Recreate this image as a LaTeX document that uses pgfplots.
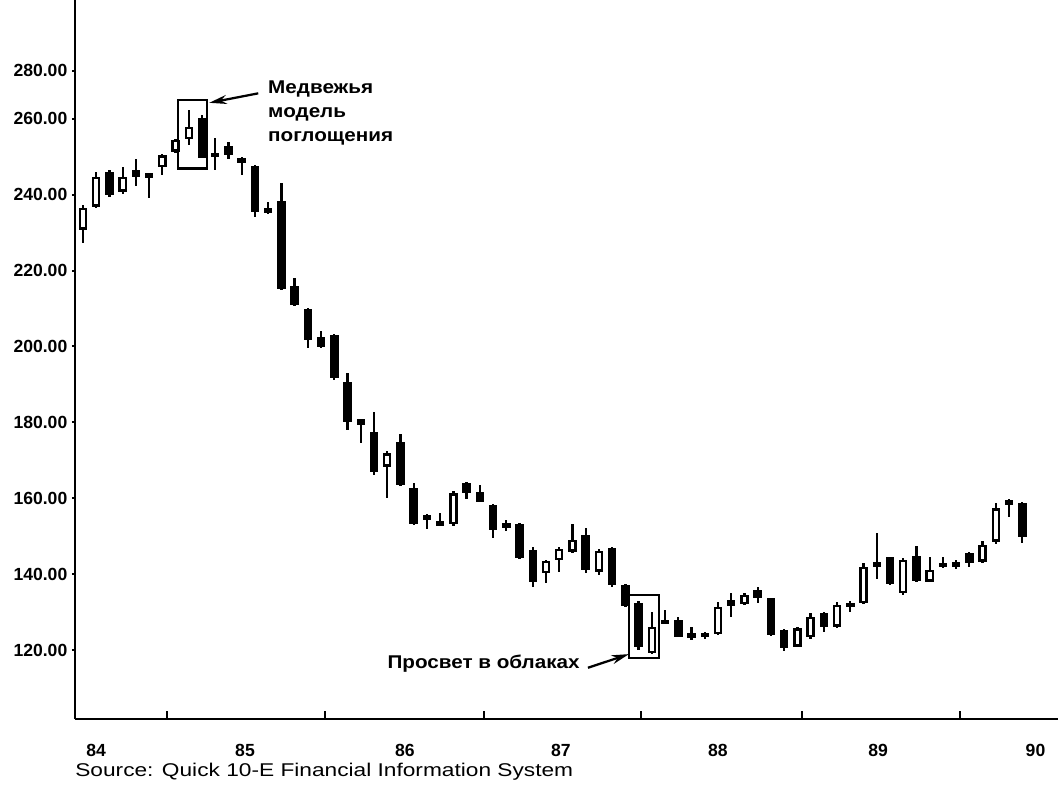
\documentclass[border=0pt]{standalone}
\usepackage{fontspec}
\setmainfont{Liberation Sans}
\newfontfamily\annfont[FakeStretch=1.12]{Liberation Sans}
\newfontfamily\srcfont[FakeStretch=1.23]{Liberation Sans}
\usepackage{pgfplots}
\pgfplotsset{compat=1.18}
\usepackage{pgfplotstable}
\usetikzlibrary{arrows.meta}

% monthly candles, i = month index (0 = mid 1984)
\pgfplotstableread{
i  O     H     L     C
0  230.7 237.3 227.2 236.5
1  236.8 246.0 236.5 244.7
2  246.0 246.5 239.4 239.9
3  240.8 247.2 240.3 244.7
4  246.5 249.4 242.3 244.6
5  244.6 245.6 239.0 245.4
6  247.2 250.8 245.2 250.4
7  251.3 254.6 251.0 254.4
8  254.6 262.3 253.1 257.9
9  260.1 261.0 249.6 249.6
10 250.8 254.8 246.5 250.2
11 252.7 254.0 249.3 250.4
12 249.6 249.8 245.2 248.3
13 247.6 247.8 234.1 235.4
14 236.4 238.1 235.0 235.2
15 238.3 243.1 214.8 215.0
16 215.9 217.9 210.6 210.9
17 209.8 210.0 199.5 201.7
18 202.6 204.1 199.6 199.8
19 203.0 203.2 191.1 191.6
20 190.7 192.9 178.0 180.2
21 180.8 181.0 174.5 179.3
22 177.5 182.8 166.1 167.0
23 168.3 172.4 160.0 171.8
24 174.9 176.8 163.3 163.5
25 162.6 163.9 153.0 153.2
26 154.3 155.8 151.8 155.6
27 153.8 156.0 152.7 152.9
28 153.2 162.0 152.7 161.3
29 164.1 164.3 159.7 161.3
30 161.7 163.5 158.9 159.1
31 158.2 158.5 149.4 151.6
32 153.2 154.3 151.4 152.3
33 153.2 153.4 143.9 144.2
34 146.4 147.2 136.7 138.0
35 140.2 143.7 137.7 143.5
36 143.7 147.1 140.6 146.6
37 145.9 153.2 145.5 149.0
38 150.3 152.1 140.2 141.1
39 140.6 146.6 139.8 146.2
40 146.8 147.2 136.7 137.1
41 137.1 137.3 131.4 131.6
42 132.3 133.0 120.0 120.9
43 119.1 130.1 118.9 126.1
44 127.7 130.5 126.8 127.0
45 127.9 128.6 123.3 123.5
46 124.2 126.1 122.5 123.5
47 124.2 124.8 123.0 123.7
48 124.2 132.7 124.0 131.4
49 133.2 134.9 128.8 131.6
50 132.1 135.0 131.8 134.5
51 135.8 136.5 132.5 133.6
52 133.6 133.8 123.7 124.0
53 125.3 125.5 119.6 120.4
54 120.9 126.0 120.7 125.7
55 123.3 129.7 123.0 128.7
56 129.8 130.0 124.8 126.1
57 126.1 132.7 125.9 131.9
58 132.3 133.0 130.1 131.3
59 132.3 143.0 132.0 141.9
60 143.0 150.7 138.6 142.1
61 144.4 144.6 137.2 137.4
62 134.9 144.2 134.5 143.7
63 144.8 147.4 137.9 138.3
64 138.0 144.6 137.9 141.1
65 142.8 144.4 141.7 141.9
66 143.0 143.7 141.3 141.9
67 145.5 145.9 141.9 142.8
68 143.3 148.8 143.0 147.7
69 148.5 158.7 147.9 157.3
70 159.5 159.7 155.0 158.2
71 158.8 158.9 148.1 149.7
}\candles

\begin{document}
\begin{tikzpicture}
\path[use as bounding box] (-15mm,-16.6mm) rectangle (196.6mm,143.8mm);
\begin{axis}[
    at={(0,0)}, anchor=south west,
    scale only axis,
    width=196.6mm, height=143.8mm,
    xmin=-0.6, xmax=73.7,
    ymin=101.8, ymax=291.3,
    axis x line=bottom, axis y line=left,
    axis line style={-, line width=0.5mm},
    clip=false,
    tick align=outside,
    tick style={black, line width=0.4mm},
    major tick length=0.6mm,
    minor tick length=1.6mm,
    xtick={1,12.25,24.34,36.13,48,60.1,72},
    xticklabels={84,85,86,87,88,89,90},
    major x tick style={draw=none},
    minor xtick={6.35,18.29,30.31,42.18,54.35,66.29},
    minor x tick style={yshift=1.6mm},
    ytick={120,140,160,180,200,220,240,260,272.6},
    yticklabels={120.00,140.00,160.00,180.00,200.00,220.00,240.00,260.00,280.00},
    tick label style={font=\bfseries\fontsize{10}{11}\selectfont},
    xticklabel style={yshift=-3.2mm},
    yticklabel style={xshift=0.3mm},
  ]
  % wicks
  \addplot[draw=none, mark=none,
    error bars/.cd, y dir=both, y explicit, error mark=none,
    error bar style={draw=black, line width=0.45mm}]
    table[x=i, y expr={(\thisrow{H}+\thisrow{L})/2},
          y error expr={(\thisrow{H}-\thisrow{L})/2}] {\candles};
  % bodies
  \addplot[draw=none, mark=none,
    error bars/.cd, y dir=both, y explicit, error mark=none,
    error bar style={draw=black, line width=1.7mm}]
    table[x=i, y expr={(\thisrow{O}+\thisrow{C})/2},
          y error expr={max(abs(\thisrow{C}-\thisrow{O})/2,0.6)}] {\candles};
  % hollow (rising) bodies
  \addplot[draw=none, mark=none,
    restrict expr to domain={\thisrow{C}-\thisrow{O}}{1.5:1000},
    error bars/.cd, y dir=both, y explicit, error mark=none,
    error bar style={draw=white, line width=0.75mm}]
    table[x=i, y expr={(\thisrow{O}+\thisrow{C})/2},
          y error expr={abs(\thisrow{C}-\thisrow{O})/2-0.65}] {\candles};

  % annotations
  \draw[line width=0.45mm] (axis cs:7.16,246.9) rectangle (axis cs:9.40,264.9);
  \draw[line width=0.45mm] (axis cs:41.27,117.8) rectangle (axis cs:43.54,134.5);
  \draw[line width=0.45mm, -{Stealth[length=3.5mm,width=1.8mm]}]
    (axis cs:13.25,266.7) -- (axis cs:9.55,264.2);
  \draw[line width=0.45mm, -{Stealth[length=3.5mm,width=1.8mm]}]
    (axis cs:38.17,115.3) -- (axis cs:41.27,118.9);
  \node[anchor=west, inner sep=0, align=left,
        font=\annfont\bfseries\fontsize{10.5}{13.6}\selectfont]
    at (axis cs:13.98,261.6) {Медвежья\\модель\\поглощения};
  \node[anchor=east, inner sep=0, font=\annfont\bfseries\fontsize{10.5}{12}\selectfont]
    at (axis cs:37.57,116.3) {Просвет в облаках};
  \node[anchor=west, inner sep=0, font=\srcfont\fontsize{10.5}{12}\selectfont]
    at (axis description cs:0,-0.0738) {Source: Quick 10-E Financial Information System};
\end{axis}
\end{tikzpicture}
\end{document}
